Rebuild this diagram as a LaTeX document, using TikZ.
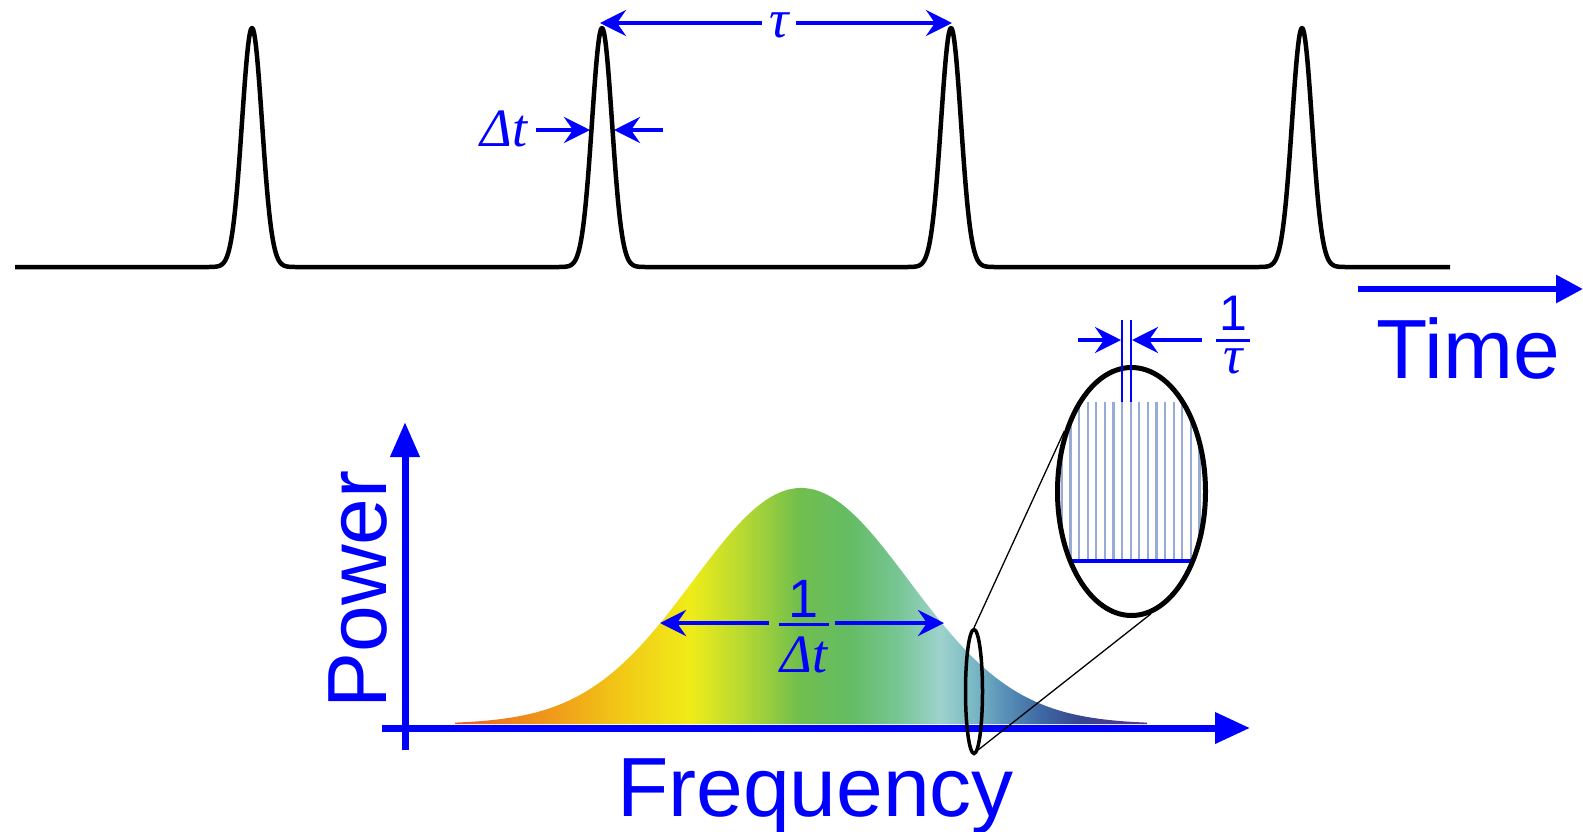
\documentclass[tikz,border=0pt]{standalone}
\usepackage{fontspec}
\newfontfamily\arialf{Liberation Sans}
\newfontfamily\timesf{Liberation Serif}
\usetikzlibrary{arrows.meta,shapes.geometric}
\definecolor{pblue}{RGB}{0,0,255}
\definecolor{combc}{RGB}{150,172,214}
\definecolor{sA}{RGB}{232,90,40}
\definecolor{sB}{RGB}{237,125,30}
\definecolor{sC}{RGB}{240,160,25}
\definecolor{sD}{RGB}{242,200,22}
\definecolor{sE}{RGB}{240,236,25}
\definecolor{sF}{RGB}{185,218,48}
\definecolor{sG}{RGB}{112,190,78}
\definecolor{sH}{RGB}{100,188,100}
\definecolor{sI}{RGB}{120,198,150}
\definecolor{sJ}{RGB}{158,210,205}
\definecolor{sK}{RGB}{120,182,196}
\definecolor{sL}{RGB}{92,150,186}
\definecolor{sM}{RGB}{62,105,162}
\definecolor{sN}{RGB}{55,70,142}
\definecolor{sO}{RGB}{95,50,140}
\pgfdeclarehorizontalshading{spectrum}{100bp}{color(0bp)=(sA); color(25bp)=(sA);
 color(28.25bp)=(sB); color(32.59bp)=(sC); color(36.92bp)=(sD); color(41.98bp)=(sE);
 color(45.59bp)=(sF); color(49.93bp)=(sG); color(53.54bp)=(sH); color(57.15bp)=(sI);
 color(60.04bp)=(sJ); color(62.57bp)=(sK); color(64.38bp)=(sL); color(67.27bp)=(sM);
 color(70.16bp)=(sN); color(75bp)=(sO); color(100bp)=(sO)}
\tikzset{
 pulse/.style={line width=4.5pt, line join=round, black},
 dimarrow/.style={pblue, line width=4pt, -{Stealth[length=26pt,width=26pt,inset=9pt]}},
 axisline/.style={pblue, line width=7pt},
 biglabel/.style={pblue, font=\arialf\fontsize{84}{100}\selectfont, inner sep=0pt},
 mathlabel/.style={pblue, font=\timesf\itshape\fontsize{54}{60}\selectfont, inner sep=0pt},
 numlabel/.style={pblue, font=\arialf\fontsize{54}{60}\selectfont, inner sep=0pt},
 fracbar/.style={pblue, line width=3pt},
 zoomline/.style={black, line width=1.3pt},
 markline/.style={pblue, line width=2pt},
}
\begin{document}
\begin{tikzpicture}[x=1pt, y=-1pt,
  declare function={pk(\x,\c)=267-239*exp(-(\x-\c)*(\x-\c)/200);
                     sp(\x)=724-236*exp(-0.5*((\x-801)/108)*((\x-801)/108));}]
\useasboundingbox (0,0) rectangle (1583,831);

% pulse train
\draw[pulse] (15,267)
  -- plot[domain=207:297,samples=91] (\x,{pk(\x,252)})
  -- plot[domain=557:647,samples=91] (\x,{pk(\x,602)})
  -- plot[domain=906:996,samples=91] (\x,{pk(\x,951)})
  -- plot[domain=1257:1347,samples=91] (\x,{pk(\x,1302)})
  -- (1450,267);

% spectrum
\begin{scope}
\clip (455,724) -- plot[domain=455:1147,samples=230] (\x,{sp(\x)}) -- (1147,724) -- cycle;
\shade[shading=spectrum] (455,480) rectangle (1147,730);
\end{scope}

% axes
\coordinate (pa0) at (405,750); \coordinate (pa1) at (405,422);
\coordinate (fa0) at (382,728); \coordinate (fa1) at (1250,728);
\draw[axisline,-{Triangle[length=35pt,width=28pt]}] (pa0) -- (pa1);
\draw[axisline,-{Triangle[length=35pt,width=30pt]}] (fa0) -- (fa1);
\coordinate (ta0) at (1358,289); \coordinate (ta1) at (1583,289);
\draw[pblue, line width=6pt,-{Triangle[length=27pt,width=27pt]}] (ta0) -- (ta1);

\node[biglabel, anchor=base] (time) at (1468,378) {Time};
\node[biglabel, anchor=base, rotate=90] (power) at (386,589.5) {Power};
\node[biglabel, anchor=base] (freq) at (815.5,816) {Frequency};

% magnifier
\node[draw, ellipse, line width=3.5pt, minimum width=17pt, minimum height=124pt, inner sep=0pt] (smE) at (974,691.5) {};
\begin{scope}
\clip (1131.5,491.5) ellipse [x radius=73, y radius=123];
\foreach \k in {-8,...,9} \draw[combc, line width=2.2pt] ({1122+8.6*\k},402) -- ({1122+8.6*\k},561);
\draw[pblue, line width=4pt] (1040,561) -- (1220,561);
\end{scope}
\node[draw, ellipse, line width=5pt, minimum width=148pt, minimum height=248pt, inner sep=0pt] (bigE) at (1131.5,491.5) {};
\draw[zoomline] (smE.north) -- (bigE.138);
\draw[zoomline] (smE.-86) -- (bigE.-81);

% tau
\node[mathlabel, inner xsep=7pt] (tau) at (779,25) {τ};
\coordinate (tauA) at (600,23); \coordinate (tauB) at (952,23);
\draw[dimarrow] (tau.west |- tauA) -- (tauA);
\draw[dimarrow] (tau.east |- tauB) -- (tauB);

% delta t
\node[mathlabel, inner xsep=8pt] (dt) at (504,129) {Δt};
\coordinate (dtA) at (590,130); \coordinate (dtB0) at (663,130); \coordinate (dtB) at (614,130);
\draw[dimarrow] (dt.east |- dtA) -- (dtA);
\draw[dimarrow] (dtB0) -- (dtB);

% 1/delta t
\node[numlabel] (fdn) at (804,599) {1};
\node[mathlabel] (fdd) at (804,655) {Δt};
\coordinate (fbL) at (779,624); \coordinate (fbR) at (829,624);
\draw[fracbar] (fbL) -- (fbR);
\coordinate (fdL) at (769,623); \coordinate (fdLt) at (660,623);
\coordinate (fdR) at (835,623); \coordinate (fdRt) at (944,623);
\draw[dimarrow] (fdL) -- (fdLt);
\draw[dimarrow] (fdR) -- (fdRt);

% 1/tau
\coordinate (cl0) at (1122,320); \coordinate (cl1) at (1122,402);
\coordinate (cr0) at (1130.6,320); \coordinate (cr1) at (1130.6,402);
\draw[markline] (cl0) -- (cl1);
\draw[markline] (cr0) -- (cr1);
\coordinate (ftL) at (1078,340); \coordinate (ftLt) at (1121,340);
\coordinate (ftR) at (1202,340); \coordinate (ftRt) at (1132,340);
\draw[dimarrow] (ftL) -- (ftLt);
\draw[dimarrow] (ftR) -- (ftRt);
\node[numlabel, font=\arialf\fontsize{50}{60}\selectfont] (ftn) at (1233,313) {1};
\node[mathlabel] (ftd) at (1233,361) {τ};
\coordinate (tbL) at (1216,340); \coordinate (tbR) at (1250,340);
\draw[fracbar] (tbL) -- (tbR);
\end{tikzpicture}
\end{document}
